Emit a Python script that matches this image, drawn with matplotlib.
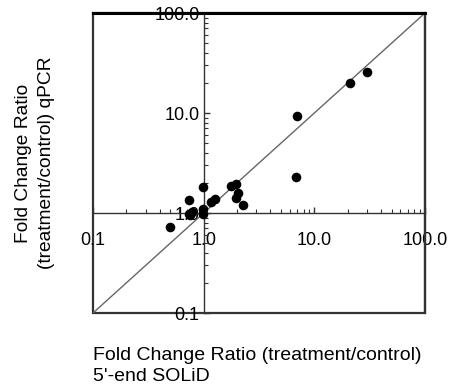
import matplotlib
matplotlib.use("Agg")
import matplotlib.pyplot as plt
from matplotlib import ticker
from matplotlib.patches import Rectangle

plt.rcParams['font.family'] = ['Liberation Sans', 'DejaVu Sans']

# fold change ratios
solid_ratio = [0.50, 0.74, 0.74, 0.78, 0.76, 0.98, 0.98, 0.98, 1.17, 1.27,
               1.75, 1.96, 2.05, 1.96, 2.25, 6.8, 6.95, 21.0, 30.0]
qpcr_ratio = [0.72, 1.35, 0.97, 1.02, 0.95, 1.80, 1.09, 0.98, 1.30, 1.37,
              1.86, 1.95, 1.60, 1.40, 1.20, 2.3, 9.4, 20.0, 26.0]

tick_values = [0.1, 1, 10, 100]
tick_labels = ['0.1', '1.0', '10.0', '100.0']
diag = [0.1, 100]

fig = plt.figure(figsize=(4.64, 3.91), dpi=100)
ax = fig.add_axes([93/464, 1-313/391, 332/464, 300/391])
ax.set_xscale('log')
ax.set_yscale('log')
ax.set_xlim(0.1, 100)
ax.set_ylim(0.1, 100)

# axes cross at (1, 1), box drawn round the plot
ax.spines['left'].set_position(('data', 1))
ax.spines['bottom'].set_position(('data', 1))
for s in ['left', 'bottom']:
    ax.spines[s].set_linewidth(1.0)
    ax.spines[s].set_color('#333333')
ax.spines['top'].set_linewidth(2.2)
ax.spines['right'].set_linewidth(1.6)
ax.spines['right'].set_color('#333333')
ax.add_patch(Rectangle((0, 0), 1, 1, transform=ax.transAxes, fill=False,
                       edgecolor='#333333', linewidth=1.6, clip_on=False, zorder=1))

ax.plot(diag, diag, color='#666666', linewidth=1.0, zorder=2)
ax.scatter(solid_ratio, qpcr_ratio, s=48, color='black', zorder=4, linewidths=0)

for axis in [ax.xaxis, ax.yaxis]:
    axis.set_major_locator(ticker.FixedLocator(tick_values))
    axis.set_major_formatter(ticker.FixedFormatter(tick_labels))
    axis.set_minor_locator(ticker.LogLocator(base=10, subs=range(2, 10)))
    axis.set_minor_formatter(ticker.NullFormatter())

ax.tick_params(axis='both', which='both', direction='in', colors='#333333',
               labelcolor='black', labelsize=13)
ax.tick_params(axis='both', which='major', length=4, width=1)
ax.tick_params(axis='both', which='minor', length=3, width=0.8)
ax.tick_params(axis='x', pad=14)
ax.tick_params(axis='y', pad=3)

fig.text(93/464, 1-366/391, 'Fold Change Ratio (treatment/control)\n5\'-end SOLiD',
         ha='left', va='center', fontsize=14, linespacing=1.35)
fig.text(35/464, 1-163/391, 'Fold Change Ratio\n(treatment/control) qPCR',
         ha='center', va='center', rotation=90, fontsize=13.8, linespacing=1.4,
         multialignment='center')

plt.savefig('out.png', dpi=100)
